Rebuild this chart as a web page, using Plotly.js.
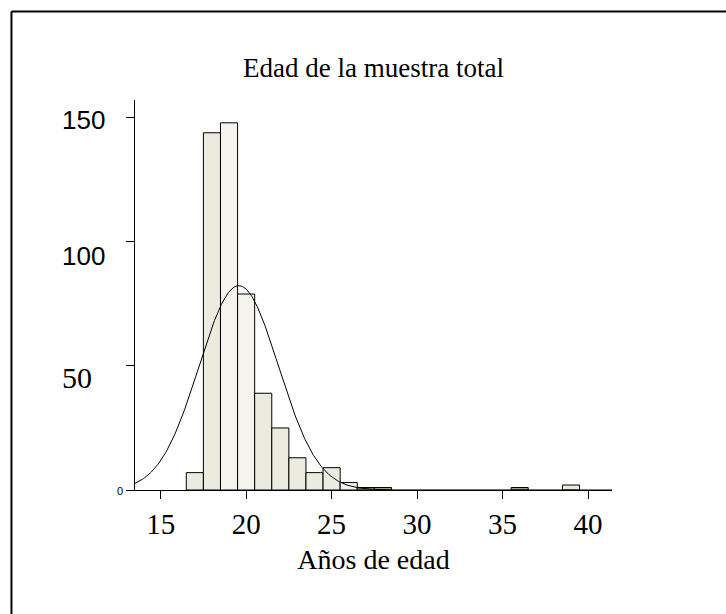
<!DOCTYPE html>
<html>
<head>
<meta charset="utf-8">
<script src="https://cdn.plot.ly/plotly-3.0.1.min.js"></script>
<style>
html,body{margin:0;padding:0;background:#fff;}
#chart{width:726px;height:614px;}
</style>
</head>
<body>
<div id="chart"></div>
<script>
// Data
const ages   = [17, 18, 19, 20, 21, 22, 23, 24, 25, 26, 27, 28, 36, 39];
const counts = [7, 144, 148, 79, 39, 25, 13, 7, 9, 3, 1, 1, 1, 2];
const barColors = ['#ecebdf','#ecebdf','#f4f3ee','#f4f3ee','#ecebdf','#ecebdf','#ecebdf','#ecebdf','#ecebdf','#f4f3ee','#a8a27a','#a8a27a','#a8a27a','#ecebdf'];
const xTicks = [15, 20, 25, 30, 35, 40];
const yTicks = [0, 50, 100, 150];
const yTickLabels = ['0', '50', '100', '150'];

// Normal curve parameters
const curveMean = 19.57;
const curveSd = 2.32;
const curveN = counts.reduce((a, b) => a + b, 0);
const curveX = [];
const curveY = [];
for (let x = 13.5; x <= 41.4; x += 0.05) {
  curveX.push(x);
  curveY.push(curveN / (curveSd * Math.sqrt(2 * Math.PI)) * Math.exp(-Math.pow(x - curveMean, 2) / (2 * curveSd * curveSd)));
}

const bars = {
  type: 'bar',
  x: ages,
  y: counts,
  width: 1,
  marker: {color: barColors, line: {color: '#000', width: 1}},
  hoverinfo: 'x+y'
};
const curve = {
  type: 'scatter',
  mode: 'lines',
  x: curveX,
  y: curveY,
  line: {color: '#000', width: 1},
  hoverinfo: 'skip'
};

// y tick label styling mimicking the reference (mixed fonts)
const yLabelStyle = {
  0:   {family: 'Liberation Sans', size: 11, xanchor: 'right', x: -0.021, yshift: -1},
  50:  {family: 'Liberation Serif', size: 30, xanchor: 'left', x: -0.157, yshift: -12},
  100: {family: 'Liberation Sans', size: 26, xanchor: 'left', x: -0.157, yshift: -14},
  150: {family: 'Liberation Sans', size: 26, xanchor: 'left', x: -0.157, yshift: -2}
};
const annotations = yTicks.map((v, i) => {
  const s = yLabelStyle[v];
  return {
    xref: 'paper', yref: 'y', x: s.x, y: v, xanchor: s.xanchor, yanchor: 'middle',
    yshift: s.yshift, showarrow: false, text: yTickLabels[i],
    font: {family: s.family, size: s.size, color: '#000'}
  };
});

const layout = {
  width: 726, height: 614,
  margin: {l: 135, r: 114, t: 100, b: 123.5},
  paper_bgcolor: '#fff', plot_bgcolor: '#fff',
  showlegend: false,
  title: {text: 'Edad de la muestra total', font: {family: 'Liberation Serif', size: 27, color: '#000'}, xref: 'paper', x: 0.5, xanchor: 'center', y: 1 - 68/614, yanchor: 'middle'},
  xaxis: {
    range: [13.5, 41.4],
    tickvals: xTicks, ticktext: xTicks.map(String),
    ticks: 'outside', ticklen: 8, tickcolor: '#000', tickwidth: 1,
    showline: true, linecolor: '#000', linewidth: 1,
    showgrid: false, zeroline: false,
    tickfont: {family: 'Liberation Serif', size: 29, color: '#000'},
    title: {text: 'Años de edad', font: {family: 'Liberation Serif', size: 28, color: '#000'}, standoff: 10}
  },
  yaxis: {
    range: [0, 157.2],
    tickvals: yTicks, showticklabels: false,
    ticks: 'outside', ticklen: 8, tickcolor: '#000', tickwidth: 1,
    showline: true, linecolor: '#000', linewidth: 1,
    showgrid: false, zeroline: false
  },
  annotations: annotations,
  shapes: [
    {type: 'line', xref: 'paper', yref: 'paper', x0: -0.259, x1: 1.4, y0: 1.227, y1: 1.227, line: {color: '#000', width: 2}},
    {type: 'line', xref: 'paper', yref: 'paper', x0: -0.259, x1: -0.259, y0: 1.227, y1: -0.4, line: {color: '#000', width: 2}}
  ]
};

Plotly.newPlot('chart', [bars, curve], layout, {displayModeBar: false, staticPlot: true});
</script>
</body>
</html>
